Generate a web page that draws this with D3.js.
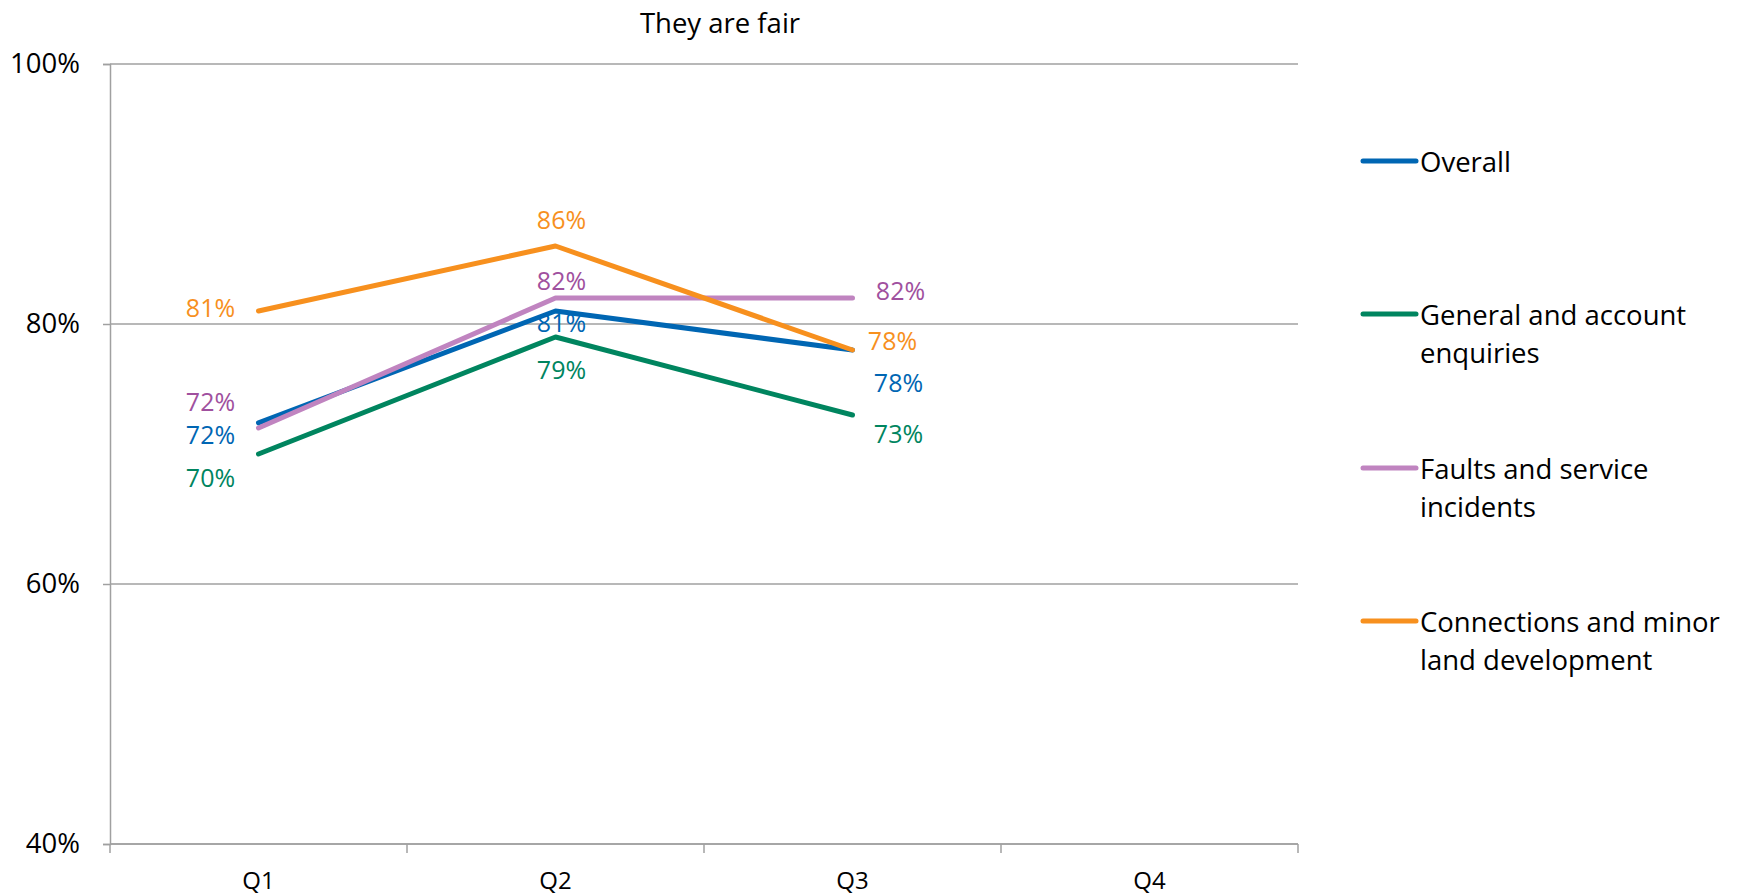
<!DOCTYPE html>
<html>
<head>
<meta charset="utf-8">
<script src="https://cdn.jsdelivr.net/npm/d3@7"></script>
<style>
  html, body { margin: 0; padding: 0; background: #fff; }
  svg { display: block; font-family: "Open Sans", "DejaVu Sans", sans-serif; }
</style>
</head>
<body>
<svg id="chart" width="1740" height="895"></svg>
<script>
// Quarterly share of customers agreeing "They are fair"
const quarters = ["Q1", "Q2", "Q3", "Q4"];
const seriesNames = [
  "Overall",
  "General and account enquiries",
  "Faults and service incidents",
  "Connections and minor land development"
];
const overall     = [0.724, 0.81, 0.78];
const general     = [0.70, 0.79, 0.73];
const faults      = [0.72, 0.82, 0.82];
const connections = [0.81, 0.86, 0.78];
const yTicks = [0.4, 0.6, 0.8, 1.0];

// Legend wrapping for the longer series names
const legendLines = [
  ["Overall"],
  ["General and account", "enquiries"],
  ["Faults and service", "incidents"],
  ["Connections and minor", "land development"]
];

const lineColors  = ["#0066B3", "#00855F", "#C084C0", "#F7901E"];
const labelColors = ["#0066B3", "#00855F", "#A0509E", "#F7901E"];

// Label offsets (dx, dy) per series and quarter, relative to each point
const labelOffsets = [
  [[-48, 11], [6, 11], [46, 32]],
  [[-48, 23], [6, 32], [46, 18]],
  [[-48, -27], [6, -18], [48, -8]],
  [[-48, -4], [6, -27], [40, -10]]
];

const series = [overall, general, faults, connections];

const svg = d3.select("#chart");
const margin = { left: 110, right: 442, top: 64, bottom: 51 };
const W = 1740, H = 895;
const plotRight = W - margin.right;
const plotBottom = H - margin.bottom;

const x = d3.scaleBand().domain(quarters).range([margin.left, plotRight]).padding(0);
const y = d3.scaleLinear().domain([0.4, 1.0]).range([plotBottom, margin.top]);
const grid = "#A0A0A0";

// Horizontal gridlines
svg.append("g")
  .selectAll("line")
  .data(yTicks)
  .join("line")
  .attr("x1", margin.left)
  .attr("x2", plotRight)
  .attr("y1", d => y(d))
  .attr("y2", d => y(d))
  .attr("stroke", grid)
  .attr("stroke-width", 1.5);

// Y axis
const yAxis = svg.append("g")
  .attr("transform", `translate(${margin.left},0)`)
  .call(d3.axisLeft(y).tickValues(yTicks).tickFormat(d3.format(".0%")).tickSize(7).tickPadding(23));
yAxis.select(".domain").attr("stroke", grid).attr("stroke-width", 1.5);
yAxis.selectAll(".tick line").attr("stroke", grid).attr("stroke-width", 1.5);
yAxis.selectAll(".tick text")
  .attr("fill", "#000")
  .style("font-family", "'Open Sans', sans-serif")
  .style("font-size", "27.5px");

// X axis with ticks at band boundaries
const xAxisG = svg.append("g").attr("transform", `translate(0,${plotBottom})`);
xAxisG.append("line")
  .attr("x1", margin.left).attr("x2", plotRight)
  .attr("y1", 0).attr("y2", 0)
  .attr("stroke", grid).attr("stroke-width", 1.5);
const boundaries = quarters.map(q => x(q)).concat([plotRight]);
xAxisG.selectAll("line.tk")
  .data(boundaries)
  .join("line")
  .attr("class", "tk")
  .attr("x1", d => d).attr("x2", d => d)
  .attr("y1", 0).attr("y2", 9)
  .attr("stroke", grid).attr("stroke-width", 1.5);
xAxisG.selectAll("text")
  .data(quarters)
  .join("text")
  .attr("x", d => x(d) + x.bandwidth() / 2)
  .attr("y", 35)
  .attr("text-anchor", "middle")
  .attr("dominant-baseline", "central")
  .attr("fill", "#000")
  .style("font-size", "24px")
  .text(d => d);

// Title
svg.append("text")
  .attr("x", 720)
  .attr("y", 22)
  .attr("text-anchor", "middle")
  .attr("dominant-baseline", "central")
  .attr("fill", "#000")
  .style("font-size", "27.5px")
  .text("They are fair");

// Lines
const line = d3.line()
  .x((d, i) => x(quarters[i]) + x.bandwidth() / 2)
  .y(d => y(d));

svg.append("g")
  .selectAll("path")
  .data(series)
  .join("path")
  .attr("d", d => line(d))
  .attr("fill", "none")
  .attr("stroke", (d, i) => lineColors[i])
  .attr("stroke-width", 5)
  .attr("stroke-linejoin", "round")
  .attr("stroke-linecap", "round");

// Data labels
const fmt = d3.format(".0%");
series.forEach((vals, si) => {
  svg.append("g")
    .selectAll("text")
    .data(vals)
    .join("text")
    .attr("x", (d, i) => x(quarters[i]) + x.bandwidth() / 2 + labelOffsets[si][i][0])
    .attr("y", (d, i) => y(d) + labelOffsets[si][i][1])
    .attr("text-anchor", "middle")
    .attr("dominant-baseline", "central")
    .attr("fill", labelColors[si])
    .style("font-size", "25px")
    .text(d => fmt(d));
});

// Legend
const legendY = [161, 314, 468, 621];
const legend = svg.append("g");
seriesNames.forEach((name, i) => {
  const g = legend.append("g").attr("transform", `translate(1363,${legendY[i]})`);
  g.append("line")
    .attr("x1", 0).attr("x2", 53)
    .attr("y1", 0).attr("y2", 0)
    .attr("stroke", lineColors[i])
    .attr("stroke-width", 5)
    .attr("stroke-linecap", "round");
  g.append("text")
    .attr("x", 57)
    .attr("y", 0)
    .attr("dominant-baseline", "central")
    .attr("fill", "#000")
    .style("font-size", "27.5px")
    .selectAll("tspan")
    .data(legendLines[i])
    .join("tspan")
    .attr("x", 57)
    .attr("dy", (d, j) => j === 0 ? 0 : 38)
    .text(d => d);
});
</script>
</body>
</html>
